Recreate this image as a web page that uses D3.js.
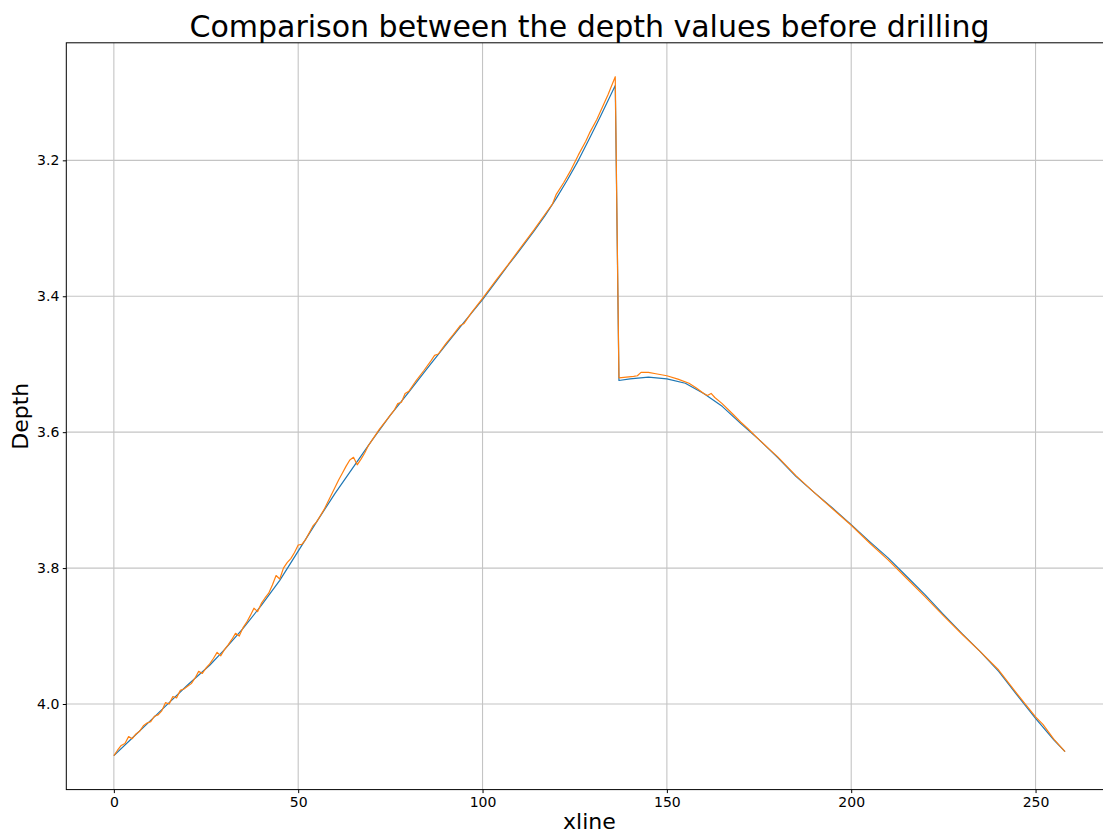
<!DOCTYPE html>
<html>
<head>
<meta charset="utf-8">
<script src="https://cdn.jsdelivr.net/npm/d3@7"></script>
<style>
  html, body { margin: 0; padding: 0; background: #ffffff; }
  svg { display: block; font-family: "DejaVu Sans", sans-serif; }
</style>
</head>
<body>
<svg id="chart" width="1103" height="833"></svg>
<script>
// Depth along the xline, first series (blue)
const xlineA = [0, 5, 10, 15, 20, 26, 30, 35, 40, 45, 50, 55, 60, 65, 70, 75, 80, 85, 90, 95,
  100, 104, 107, 110, 114, 117, 120, 123, 126, 129, 132, 136,
  137, 140, 145, 150, 155, 160, 165, 170, 175, 180, 185, 190, 195, 200, 205, 210,
  215, 220, 225, 230, 235, 240, 245, 250, 255, 258];
const depthA = [4.076, 4.050, 4.024, 3.998, 3.972, 3.943, 3.920, 3.889, 3.855, 3.818, 3.775, 3.732, 3.690, 3.651, 3.612, 3.575, 3.541, 3.506, 3.472, 3.438,
  3.405, 3.376, 3.354, 3.333, 3.304, 3.281, 3.256, 3.229, 3.200, 3.168, 3.135, 3.090,
  3.524, 3.5215, 3.519, 3.5215, 3.528, 3.543, 3.562, 3.587, 3.611, 3.637, 3.665, 3.689, 3.712, 3.736, 3.761, 3.785,
  3.812, 3.839, 3.868, 3.896, 3.923, 3.952, 3.987, 4.021, 4.053, 4.070];

// Depth along the xline, second series (orange)
const xlineB = [0, 1, 2, 3, 4, 5, 6, 7, 8, 9, 10, 11, 12, 13, 14, 15, 16, 17, 18, 19,
  20, 21, 22, 23, 24, 25, 26, 27, 28, 29, 30, 31, 32, 33, 34, 35, 36, 37, 38, 39,
  40, 41, 42, 43, 44, 45, 46, 47, 48, 49, 50, 51, 52, 53, 54, 55, 56, 57, 58, 59,
  60, 61, 62, 63, 64, 65, 66, 67, 68, 69, 70, 72, 74, 76, 77, 78, 79, 80, 82, 84,
  86, 87, 88, 90, 92, 94, 95, 97, 100, 104, 107, 110, 114, 117, 119, 120, 122, 124, 126, 128,
  129, 131, 134, 136, 137, 139, 141, 142, 143, 145, 147, 150, 153, 156, 158, 160, 161, 162, 163, 165,
  168, 170, 172, 175, 178, 180, 185, 190, 195, 200, 205, 210, 215, 220, 225, 230, 235, 240, 245, 250,
  252, 255, 258];
const depthB = [4.076, 4.068, 4.061, 4.058, 4.048, 4.051, 4.044, 4.040, 4.032, 4.028, 4.026, 4.018, 4.016, 4.010, 3.998, 4.000, 3.989, 3.991, 3.980, 3.978,
  3.974, 3.970, 3.962, 3.952, 3.955, 3.947, 3.941, 3.933, 3.924, 3.929, 3.920, 3.913, 3.905, 3.896, 3.900, 3.888, 3.880, 3.870, 3.859, 3.864,
  3.852, 3.844, 3.837, 3.825, 3.811, 3.816, 3.800, 3.792, 3.786, 3.777, 3.766, 3.765, 3.758, 3.748, 3.738, 3.732, 3.723, 3.714, 3.703, 3.692,
  3.681, 3.670, 3.660, 3.650, 3.641, 3.637, 3.648, 3.640, 3.631, 3.620, 3.612, 3.596, 3.582, 3.568, 3.558, 3.556, 3.543, 3.540, 3.524, 3.510,
  3.495, 3.487, 3.485, 3.470, 3.457, 3.443, 3.440, 3.424, 3.403, 3.374, 3.353, 3.331, 3.302, 3.279, 3.264, 3.250, 3.233, 3.214, 3.192, 3.172,
  3.160, 3.140, 3.104, 3.077, 3.520, 3.519, 3.518, 3.517, 3.512, 3.512, 3.514, 3.517, 3.522, 3.528, 3.535, 3.543, 3.546, 3.543, 3.549, 3.558,
  3.574, 3.585, 3.595, 3.611, 3.626, 3.636, 3.664, 3.689, 3.713, 3.737, 3.763, 3.788, 3.815, 3.842, 3.870, 3.897, 3.923, 3.950, 3.985, 4.019,
  4.030, 4.052, 4.070];

const xTicks = [0, 50, 100, 150, 200, 250];
const yTicks = [3.2, 3.4, 3.6, 3.8, 4.0];
const titleText = "Comparison between the depth values before drilling";
const xLabel = "xline";
const yLabel = "Depth";

const seriesA = xlineA.map((x, i) => ({ x, y: depthA[i] }));
const seriesB = xlineB.map((x, i) => ({ x, y: depthB[i] }));

// Plot box (axes area), the right edge runs just past the canvas
const box = { left: 66.3, top: 42.8, right: 1112.6, bottom: 789.6 };

// 5% padding around the data range on both axes
function padded(ext) {
  const d = (ext[1] - ext[0]) * 0.05;
  return [ext[0] - d, ext[1] + d];
}
const allX = xlineA.concat(xlineB);
const allY = depthA.concat(depthB);

const x = d3.scaleLinear().domain(padded(d3.extent(allX))).range([box.left, box.right]);
// Depth grows downward
const y = d3.scaleLinear().domain(padded(d3.extent(allY))).range([box.top, box.bottom]);

const svg = d3.select("#chart");

// Clip for marks and grid
svg.append("defs").append("clipPath").attr("id", "plotClip")
  .append("rect")
  .attr("x", box.left).attr("y", box.top)
  .attr("width", box.right - box.left).attr("height", box.bottom - box.top);

// Grid
const grid = svg.append("g").attr("clip-path", "url(#plotClip)");
grid.selectAll("line.gx").data(xTicks).join("line")
  .attr("class", "gx")
  .attr("x1", d => x(d)).attr("x2", d => x(d))
  .attr("y1", box.top).attr("y2", box.bottom)
  .attr("stroke", "#c4c4c4").attr("stroke-width", 1.1);
grid.selectAll("line.gy").data(yTicks).join("line")
  .attr("class", "gy")
  .attr("x1", box.left).attr("x2", box.right)
  .attr("y1", d => y(d)).attr("y2", d => y(d))
  .attr("stroke", "#c4c4c4").attr("stroke-width", 1.1);

// Lines
const line = d3.line().x(d => x(d.x)).y(d => y(d.y));
const marks = svg.append("g").attr("clip-path", "url(#plotClip)");
marks.append("path").datum(seriesA)
  .attr("d", line).attr("fill", "none")
  .attr("stroke", "#1f77b4").attr("stroke-width", 1.2)
  .attr("stroke-linejoin", "round");
marks.append("path").datum(seriesB)
  .attr("d", line).attr("fill", "none")
  .attr("stroke", "#ff7f0e").attr("stroke-width", 1.2)
  .attr("stroke-linejoin", "round");

// Axes
const xAxis = d3.axisBottom(x).tickValues(xTicks).tickFormat(d3.format("d"))
  .tickSize(3.5).tickPadding(3.5);
const yAxis = d3.axisLeft(y).tickValues(yTicks).tickFormat(d3.format(".1f"))
  .tickSize(3.5).tickPadding(3.5);

const gx = svg.append("g").attr("transform", `translate(0,${box.bottom})`).call(xAxis);
const gy = svg.append("g").attr("transform", `translate(${box.left},0)`).call(yAxis);
[gx, gy].forEach(g => {
  g.select(".domain").remove();
  g.selectAll(".tick line").attr("stroke", "#000").attr("stroke-width", 1);
  g.selectAll(".tick text").attr("fill", "#000")
    .style("font-family", "'DejaVu Sans', sans-serif").style("font-size", "14px");
});

// Frame
svg.append("rect")
  .attr("x", box.left).attr("y", box.top)
  .attr("width", box.right - box.left).attr("height", box.bottom - box.top)
  .attr("fill", "none").attr("stroke", "#000").attr("stroke-width", 1);

// Title and axis labels
const cx = (box.left + box.right) / 2;
svg.append("text").attr("x", cx).attr("y", 37)
  .attr("text-anchor", "middle").style("font-size", "30px").attr("fill", "#000")
  .text(titleText);
svg.append("text").attr("x", cx).attr("y", 829)
  .attr("text-anchor", "middle").style("font-size", "22px").attr("fill", "#000")
  .text(xLabel);
svg.append("text")
  .attr("transform", `translate(28,${(box.top + box.bottom) / 2}) rotate(-90)`)
  .attr("text-anchor", "middle").style("font-size", "22px").attr("fill", "#000")
  .text(yLabel);
</script>
</body>
</html>
